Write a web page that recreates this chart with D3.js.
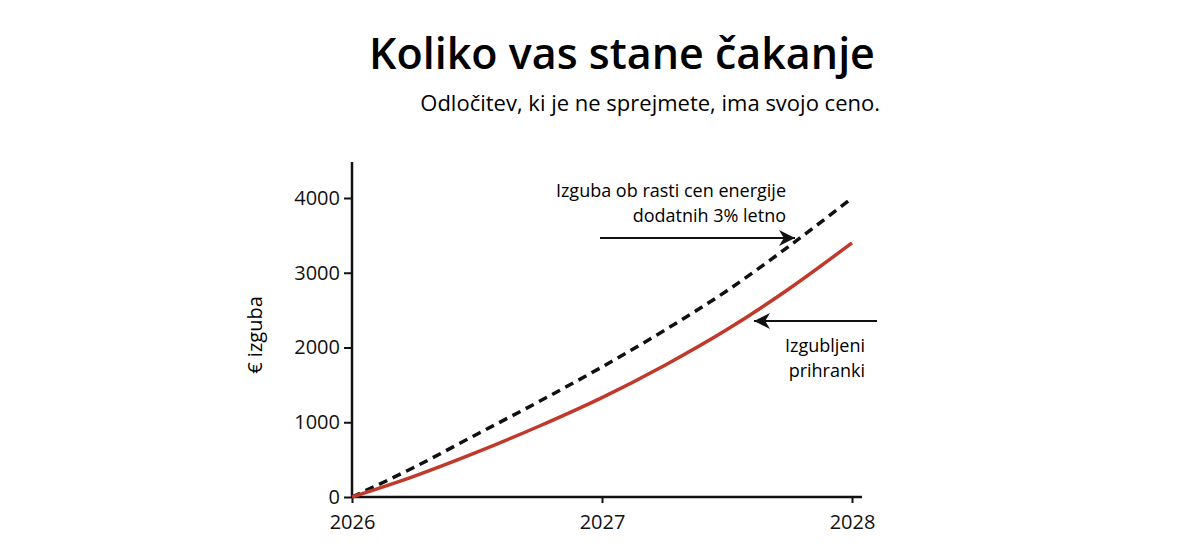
<!DOCTYPE html>
<html><head><meta charset="utf-8">
<script src="https://cdn.jsdelivr.net/npm/d3@7"></script>
<style>body{margin:0;background:#fff;font-family:"Open Sans",Lato,sans-serif;}</style>
</head><body><svg id="c" width="1200" height="556"></svg>
<script>
// data
const years = [2026, 2026.25, 2026.5, 2026.75, 2027, 2027.25, 2027.5, 2027.75, 2028];
const lost = [0, 280, 600, 950, 1330, 1760, 2240, 2790, 3400];
const lostEnergy = [0, 400, 840, 1280, 1740, 2230, 2760, 3360, 4000];
const yTicks = [0, 1000, 2000, 3000, 4000];
const xTicks = [2026, 2027, 2028];

const svg = d3.select('#c');
const x = d3.scaleLinear().domain([2026, 2028]).range([352, 852]);
const y = d3.scaleLinear().domain([0, 4000]).range([497, 198]);

svg.append('text').attr('x', 622).attr('y', 69).attr('text-anchor', 'middle')
  .attr('font-size', 43).attr('font-weight', 600).text('Koliko vas stane čakanje');
svg.append('text').attr('x', 880).attr('y', 111).attr('text-anchor', 'end')
  .attr('font-size', 22).text('Odločitev, ki je ne sprejmete, ima svojo ceno.');

const yAxis = svg.append('g').attr('transform', 'translate(352,0)')
  .call(d3.axisLeft(y).tickValues(yTicks).tickSize(8).tickPadding(4).tickFormat(d3.format('d')));
const xAxis = svg.append('g').attr('transform', 'translate(0,497)')
  .call(d3.axisBottom(x).tickValues(xTicks).tickSize(6).tickPadding(12).tickFormat(d3.format('d')));
[yAxis, xAxis].forEach(a => {
  a.selectAll('text').attr('font-size', 20).attr('font-family', '"Open Sans", sans-serif').attr('fill', '#111');
  a.selectAll('line').attr('stroke', '#111').attr('stroke-width', 2);
  a.select('.domain').remove();
});
svg.append('line').attr('x1', 352).attr('x2', 352).attr('y1', 162).attr('y2', 497).attr('stroke', '#111').attr('stroke-width', 2.5);
svg.append('line').attr('x1', 352).attr('x2', 862).attr('y1', 497).attr('y2', 497).attr('stroke', '#111').attr('stroke-width', 2.5);

svg.append('text').attr('transform', 'translate(262,335) rotate(-90)').attr('text-anchor', 'middle')
  .attr('font-size', 20).text('€ izguba');

const line = d3.line().x((d, i) => x(years[i])).y(d => y(d)).curve(d3.curveMonotoneX);
svg.append('path').attr('d', line(lostEnergy)).attr('fill', 'none').attr('stroke', '#111')
  .attr('stroke-width', 3.5).attr('stroke-dasharray', '9,6');
svg.append('path').attr('d', line(lost)).attr('fill', 'none').attr('stroke', '#c0392b').attr('stroke-width', 3.5);

svg.append('defs').append('marker').attr('id', 'ah').attr('viewBox', '0 0 10 10').attr('refX', 10).attr('refY', 5)
  .attr('markerWidth', 8).attr('markerHeight', 8).attr('orient', 'auto')
  .append('path').attr('d', 'M0,0 L10,5 L0,10 L3,5 Z').attr('fill', '#111');
svg.append('line').attr('x1', 600).attr('x2', 795).attr('y1', 238).attr('y2', 238)
  .attr('stroke', '#111').attr('stroke-width', 2).attr('marker-end', 'url(#ah)');
svg.append('line').attr('x1', 877).attr('x2', 754).attr('y1', 321).attr('y2', 321)
  .attr('stroke', '#111').attr('stroke-width', 2).attr('marker-end', 'url(#ah)');

const note = (xx, yy, lines) => lines.forEach((t, i) =>
  svg.append('text').attr('x', xx).attr('y', yy + i * 25).attr('text-anchor', 'end').attr('font-size', 18).text(t));
note(786, 197, ['Izguba ob rasti cen energije', 'dodatnih 3% letno']);
note(865, 352, ['Izgubljeni', 'prihranki']);
</script></body></html>
